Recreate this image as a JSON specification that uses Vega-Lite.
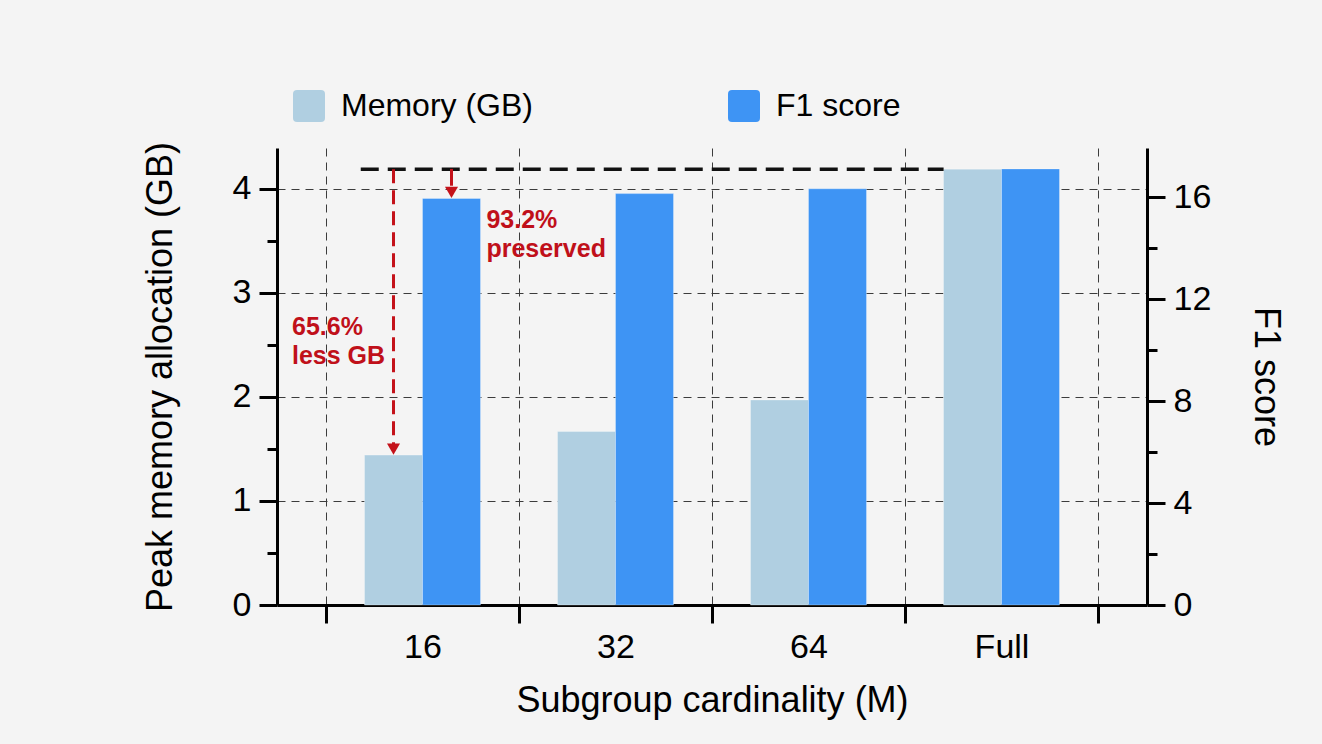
{
  "$schema": "https://vega.github.io/schema/vega-lite/v6.json",
  "width": 870,
  "height": 457,
  "autosize": {"type": "none"},
  "padding": {"left": 277, "top": 148, "right": 175, "bottom": 139},
  "background": "#f4f4f4",
  "config": {
    "view": {"stroke": null},
    "font": "Liberation Sans",
    "axis": {
      "labelFont": "Liberation Sans",
      "titleFont": "Liberation Sans",
      "labelFontSize": 34,
      "titleFontSize": 36,
      "titleFontWeight": "normal",
      "labelColor": "#000000",
      "titleColor": "#000000",
      "domainColor": "#000000",
      "domainWidth": 3,
      "tickColor": "#000000",
      "tickWidth": 3,
      "tickSize": 18,
      "gridColor": "#3c3c3c",
      "gridDash": [8, 6],
      "gridWidth": 1
    }
  },
  "datasets": {
    "bars": [
      {"cat": "16", "mem": 1.44, "f1": 15.95},
      {"cat": "32", "mem": 1.666, "f1": 16.14},
      {"cat": "64", "mem": 1.97, "f1": 16.33},
      {"cat": "Full", "mem": 4.187, "f1": 17.11}
    ],
    "refline": [{"from": "16", "to": "Full", "y": 4.187}],
    "arrow_mem": [{"cat": "16", "y": 4.187, "y2": 1.54, "tip": 1.44}],
    "arrow_f1": [{"cat": "16", "y": 17.11, "y2": 16.45, "tip": 15.95}],
    "note_mem": [{"cat": "16", "y": 2.79, "label": "65.6%\nless GB"}],
    "note_f1": [{"cat": "16", "y": 3.81, "label": "93.2%\npreserved"}]
  },
  "layer": [
    {
      "layer": [
        {
          "data": {"name": "bars"},
          "mark": {"type": "bar", "stroke": "#ffffff", "strokeWidth": 1, "strokeOpacity": 0.3},
          "encoding": {
            "x": {
              "field": "cat",
              "type": "nominal",
              "sort": null,
              "scale": {"domain": ["16", "32", "64", "Full"], "paddingInner": 0, "paddingOuter": 0.2539},
              "axis": {
                "title": "Subgroup cardinality (M)",
                "tickBand": "extent",
                "grid": true,
                "labelAngle": 0,
                "labelPadding": 7,
                "titlePadding": 19
              }
            },
            "xOffset": {
              "datum": "Memory (GB)",
              "type": "nominal",
              "scale": {"domain": ["Memory (GB)", "F1 score"], "paddingInner": 0, "paddingOuter": 0.664}
            },
            "y": {
              "field": "mem",
              "type": "quantitative",
              "scale": {"domain": [0, 4.39], "nice": false},
              "axis": {
                "orient": "left",
                "title": "Peak memory allocation (GB)",
                "values": [0, 0.5, 1, 1.5, 2, 2.5, 3, 3.5, 4],
                "labelExpr": "datum.value % 1 === 0 ? '' + datum.value : ''",
                "grid": true,
                "gridOpacity": {"condition": {"test": "datum.value % 1 !== 0 || datum.value === 0", "value": 0}, "value": 1},
                "tickSize": {"condition": {"test": "datum.value % 1 !== 0", "value": 10}, "value": 18},
                "labelPadding": 8,
                "titlePadding": 53
              }
            },
            "color": {
              "datum": "Memory (GB)",
              "type": "nominal",
              "scale": {"domain": ["Memory (GB)", "F1 score"], "range": ["#b0cfe1", "#3e94f4"]},
              "legend": {
                "orient": "none",
                "legendX": 16,
                "legendY": -58,
                "direction": "horizontal",
                "title": null,
                "padding": 0,
                "symbolType": "M-0.75,-1H0.75Q1,-1,1,-0.75V0.75Q1,1,0.75,1H-0.75Q-1,1,-1,0.75V-0.75Q-1,-1,-0.75,-1Z",
                "symbolSize": 1024,
                "symbolStrokeWidth": 0,
                "labelFont": "Liberation Sans",
                "labelFontSize": 32,
                "labelColor": "#000000",
                "labelOffset": 16,
                "labelLimit": 400,
                "columnPadding": 195
              }
            }
          }
        },
        {
          "data": {"name": "refline"},
          "mark": {"type": "rule", "color": "#111111", "strokeWidth": 3.5, "strokeDash": [18, 9]},
          "encoding": {
            "x": {"field": "from", "type": "nominal", "bandPosition": 0.18},
            "x2": {"field": "to", "bandPosition": 0.2},
            "y": {"field": "y", "type": "quantitative"}
          }
        },
        {
          "data": {"name": "arrow_mem"},
          "mark": {"type": "rule", "color": "#c4121a", "strokeWidth": 3, "strokeDash": [14, 7]},
          "encoding": {
            "x": {"field": "cat", "type": "nominal"},
            "xOffset": {"datum": "Memory (GB)", "type": "nominal"},
            "y": {"field": "y", "type": "quantitative"},
            "y2": {"field": "y2"}
          }
        },
        {
          "data": {"name": "arrow_mem"},
          "mark": {"type": "point", "shape": "triangle-down", "filled": true, "color": "#c4121a", "size": 170, "opacity": 1, "yOffset": -6},
          "encoding": {
            "x": {"field": "cat", "type": "nominal"},
            "xOffset": {"datum": "Memory (GB)", "type": "nominal"},
            "y": {"field": "tip", "type": "quantitative"}
          }
        },
        {
          "data": {"name": "note_mem"},
          "mark": {"type": "text", "align": "left", "baseline": "top", "lineBreak": "\n", "lineHeight": 29, "fontSize": 25, "fontWeight": "bold", "color": "#c0101a", "font": "Liberation Sans", "dx": -34},
          "encoding": {
            "x": {"field": "cat", "type": "nominal", "bandPosition": 0},
            "y": {"field": "y", "type": "quantitative"},
            "text": {"field": "label"}
          }
        },
        {
          "data": {"name": "note_f1"},
          "mark": {"type": "text", "align": "left", "baseline": "top", "lineBreak": "\n", "lineHeight": 29, "fontSize": 25, "fontWeight": "bold", "color": "#c0101a", "font": "Liberation Sans", "dx": 6},
          "encoding": {
            "x": {"field": "cat", "type": "nominal", "bandPosition": 0.8},
            "y": {"field": "y", "type": "quantitative"},
            "text": {"field": "label"}
          }
        }
      ]
    },
    {
      "layer": [
        {
          "data": {"name": "bars"},
          "mark": {"type": "bar", "stroke": "#ffffff", "strokeWidth": 1, "strokeOpacity": 0.3},
          "encoding": {
            "x": {"field": "cat", "type": "nominal"},
            "xOffset": {"datum": "F1 score", "type": "nominal"},
            "y": {
              "field": "f1",
              "type": "quantitative",
              "scale": {"domain": [0, 17.93], "nice": false},
              "axis": {
                "orient": "right",
                "title": "F1 score",
                "values": [0, 2, 4, 6, 8, 10, 12, 14, 16],
                "labelExpr": "datum.value % 4 === 0 ? '' + datum.value : ''",
                "grid": false,
                "tickSize": {"condition": {"test": "datum.value % 4 !== 0", "value": 10}, "value": 18},
                "labelPadding": 8,
                "titlePadding": 36
              }
            },
            "color": {"datum": "F1 score", "type": "nominal"}
          }
        },
        {
          "data": {"name": "arrow_f1"},
          "mark": {"type": "rule", "color": "#c4121a", "strokeWidth": 3},
          "encoding": {
            "x": {"field": "cat", "type": "nominal"},
            "xOffset": {"datum": "F1 score", "type": "nominal"},
            "y": {"field": "y", "type": "quantitative"},
            "y2": {"field": "y2"}
          }
        },
        {
          "data": {"name": "arrow_f1"},
          "mark": {"type": "point", "shape": "triangle-down", "filled": true, "color": "#c4121a", "size": 170, "opacity": 1, "yOffset": -6},
          "encoding": {
            "x": {"field": "cat", "type": "nominal"},
            "xOffset": {"datum": "F1 score", "type": "nominal"},
            "y": {"field": "tip", "type": "quantitative"}
          }
        }
      ]
    }
  ],
  "resolve": {"scale": {"y": "independent"}}
}
